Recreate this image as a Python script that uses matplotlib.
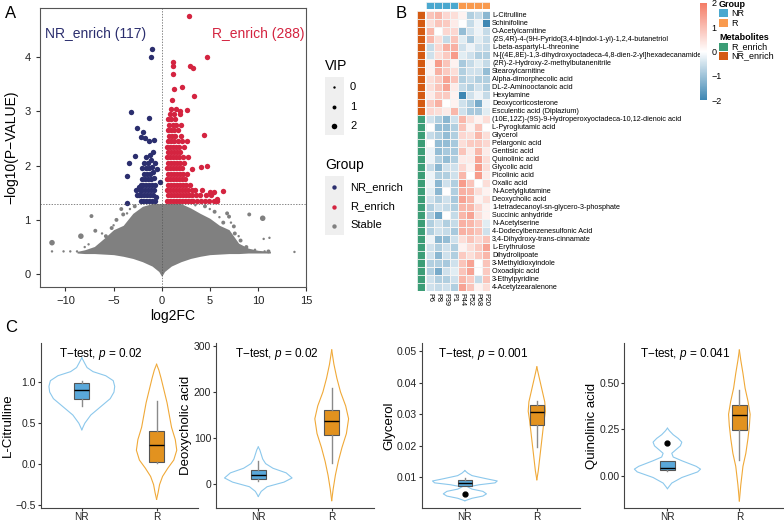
import matplotlib
matplotlib.use("Agg")
import matplotlib.pyplot as plt
from matplotlib.colors import LinearSegmentedColormap
from matplotlib.patches import Rectangle
import numpy as np

plt.rcParams['font.family'] = ['Liberation Sans', 'DejaVu Sans']
plt.rcParams['mathtext.fontset'] = 'custom'
plt.rcParams['mathtext.it'] = 'Liberation Sans:italic'
plt.rcParams['mathtext.rm'] = 'Liberation Sans'

# ---------------- panel A data ----------------
nr_points = [(-1.0, 4.15), (-1.1, 4.0), (-3.2, 2.98), (-1.3, 2.88), (-2.6, 2.69), (-1.9, 2.61),
             (-2.1, 2.52), (-1.7, 2.5), (-1.3, 2.45), (-0.8, 2.47), (-2.8, 2.17), (-3.4, 2.05),
             (-3.6, 1.8), (-3.6, 1.32), (-0.17, 1.7), (-0.5, 1.94),
             (-2.2, 1.35), (-1.9, 1.35), (-1.6, 1.35), (-1.3, 1.35), (-1.0, 1.35), (-0.7, 1.35),
             (-2.4, 1.45), (-2.1, 1.45), (-1.8, 1.45), (-1.5, 1.45), (-1.2, 1.45), (-0.9, 1.45),
             (-0.6, 1.42), (-2.3, 1.55), (-2.0, 1.55), (-1.7, 1.55), (-1.4, 1.55), (-1.1, 1.55),
             (-0.8, 1.55), (-2.2, 1.65), (-1.9, 1.65), (-1.6, 1.65), (-1.3, 1.65), (-1.0, 1.65),
             (-0.7, 1.65), (-2.0, 1.75), (-1.7, 1.75), (-1.4, 1.75), (-1.1, 1.75), (-0.8, 1.78),
             (-1.8, 1.85), (-1.5, 1.85), (-1.2, 1.85), (-0.9, 1.88), (-2.0, 1.95), (-1.6, 1.95),
             (-1.3, 1.95), (-1.0, 1.98), (-1.8, 2.05), (-1.4, 2.05), (-1.1, 2.1), (-0.7, 2.05),
             (-1.6, 2.15), (-1.2, 2.2), (-0.9, 2.25), (-2.4, 1.6), (-2.6, 1.45), (-2.7, 1.55)]

r_points = [(2.8, 4.76), (4.7, 4.0), (1.15, 3.9), (1.2, 3.84), (2.9, 3.84), (3.3, 3.8), (1.15, 3.68),
            (2.1, 3.45), (1.25, 3.41), (3.35, 3.28), (1.1, 3.2), (2.6, 3.03), (1.9, 3.0),
            (4.4, 2.56), (4.7, 1.99), (4.1, 1.97), (3.1, 1.93), (6.4, 1.53), (5.7, 1.39),
            (5.0, 1.51), (5.4, 1.52),
            (0.6, 1.35), (0.9, 1.35), (1.2, 1.35), (1.5, 1.35), (1.8, 1.35), (2.1, 1.35), (2.4, 1.35),
            (2.7, 1.35), (3.0, 1.35), (3.3, 1.35), (3.7, 1.35), (4.1, 1.35), (4.5, 1.35), (4.9, 1.35),
            (5.4, 1.35), (5.8, 1.35),
            (0.7, 1.45), (1.0, 1.45), (1.3, 1.45), (1.6, 1.45), (1.9, 1.45), (2.2, 1.45), (2.5, 1.45),
            (2.8, 1.45), (3.2, 1.45), (3.6, 1.45), (4.0, 1.45), (4.6, 1.45), (5.1, 1.45),
            (0.6, 1.55), (0.9, 1.55), (1.2, 1.55), (1.5, 1.55), (1.8, 1.55), (2.1, 1.55), (2.4, 1.55),
            (2.7, 1.55), (3.1, 1.55), (3.5, 1.55), (4.2, 1.55),
            (0.7, 1.65), (1.0, 1.65), (1.3, 1.65), (1.6, 1.65), (1.9, 1.65), (2.2, 1.65), (2.5, 1.65),
            (2.9, 1.65), (0.6, 1.75), (0.9, 1.75), (1.2, 1.75), (1.5, 1.75), (1.8, 1.75), (2.1, 1.75),
            (2.4, 1.75), (0.7, 1.85), (1.0, 1.85), (1.3, 1.85), (1.6, 1.85), (1.9, 1.85), (2.2, 1.85),
            (2.6, 1.85), (0.6, 1.95), (0.9, 1.95), (1.2, 1.95), (1.5, 1.95), (1.8, 1.95), (2.1, 1.95),
            (0.7, 2.05), (1.0, 2.05), (1.3, 2.05), (1.6, 2.05), (1.9, 2.05), (2.3, 2.05),
            (0.6, 2.15), (0.9, 2.15), (1.2, 2.15), (1.5, 2.15), (1.8, 2.15), (2.2, 2.15), (2.7, 2.15),
            (0.7, 2.25), (1.0, 2.25), (1.3, 2.25), (1.6, 2.25), (1.9, 2.25),
            (0.6, 2.35), (0.9, 2.35), (1.2, 2.35), (1.5, 2.35), (1.8, 2.35), (2.3, 2.35),
            (0.7, 2.45), (1.0, 2.45), (1.3, 2.45), (1.7, 2.45), (2.1, 2.45), (2.6, 2.45),
            (0.8, 2.55), (1.1, 2.55), (1.4, 2.55), (2.0, 2.55), (0.7, 2.65), (1.0, 2.65), (1.3, 2.65),
            (1.7, 2.65), (0.8, 2.75), (1.2, 2.75), (1.5, 2.75), (2.0, 2.75), (0.7, 2.85), (1.0, 2.85),
            (1.4, 2.85), (0.9, 2.95), (1.3, 2.95), (1.9, 2.95), (1.0, 3.05), (1.5, 3.05)]

# dense "Stable" mass: outline of the grey area
gray_x = [-8.8, -8, -7, -6, -5, -4, -3, -2, -1, -0.3, 0, 0.3, 1, 2, 3, 4, 5, 6, 7, 8, 9, 10, 11.3]
gray_hi = [0.42, 0.45, 0.51, 0.66, 0.82, 0.9, 1.12, 1.25, 1.3, 1.3, 1.3, 1.3, 1.3, 1.3, 1.22, 1.12,
           1.03, 0.9, 0.82, 0.57, 0.48, 0.44, 0.42]
gray_lo = [0.39, 0.38, 0.38, 0.37, 0.36, 0.33, 0.29, 0.23, 0.15, 0.05, -0.04, 0.05, 0.15, 0.23, 0.29,
           0.33, 0.36, 0.37, 0.38, 0.38, 0.39, 0.39, 0.39]
# scattered stable points (x, y, VIP)
gray_points = [(-11.4, 0.58, 2), (-11.4, 0.42, 0), (-10.2, 0.42, 0), (-8.4, 0.7, 2), (-7.3, 1.07, 1),
               (-6.9, 0.8, 1), (-4.2, 1.2, 1), (-4.7, 1.0, 1), (-4.0, 1.1, 1), (-5.2, 0.85, 1),
               (-6.2, 0.75, 0), (-5.8, 0.7, 1), (-3.3, 1.2, 0), (-2.8, 1.25, 1), (-5.0, 0.9, 0),
               (-3.6, 1.12, 0), (-8.0, 0.5, 0), (-7.6, 0.55, 0), (-9.5, 0.42, 0), (-8.8, 0.42, 0),
               (9.1, 1.1, 1), (10.5, 1.03, 2), (10.6, 0.65, 0), (11.2, 0.67, 0), (13.8, 0.41, 0),
               (11.1, 0.42, 1), (10.7, 0.42, 0), (9.7, 0.45, 0), (8.8, 0.5, 1), (7.6, 0.75, 1),
               (7.5, 0.88, 1), (7.0, 1.06, 1), (6.8, 1.12, 1), (6.4, 0.95, 1), (6.0, 1.05, 0),
               (5.5, 1.15, 1), (5.0, 1.2, 0), (4.5, 1.25, 1), (8.2, 0.62, 1), (8.0, 0.7, 0),
               (7.2, 0.95, 0), (3.5, 1.27, 0)]

# ---------------- panel B data ----------------
samples = ['P6', 'P8', 'P39', 'P1', 'P44', 'P52', 'P68', 'P20']
sample_group = ['NR', 'NR', 'NR', 'NR', 'R', 'R', 'R', 'R']
metabolites = ['L-Citrulline', 'Schinifoline', 'O-Acetylcarnitine',
               '(2S,4R)-4-(9H-Pyrido[3,4-b]indol-1-yl)-1,2,4-butanetriol',
               'L-beta-aspartyl-L-threonine',
               'N-[(4E,8E)-1,3-dihydroxyoctadeca-4,8-dien-2-yl]hexadecanamide',
               '(2R)-2-Hydroxy-2-methylbutanenitrile', 'Stearoylcarnitine',
               'Alpha-dimorphecolic acid', 'DL-2-Aminooctanoic acid', 'Hexylamine',
               'Deoxycorticosterone', 'Esculentic acid (Diplazium)',
               '(10E,12Z)-(9S)-9-Hydroperoxyoctadeca-10,12-dienoic acid', 'L-Pyroglutamic acid',
               'Glycerol', 'Pelargonic acid', 'Gentisic acid', 'Quinolinic acid', 'Glycolic acid',
               'Picolinic acid', 'Oxalic acid', 'N-Acetylglutamine', 'Deoxycholic acid',
               '1-tetradecanoyl-sn-glycero-3-phosphate', 'Succinic anhydride', 'N-Acetylserine',
               '4-Dodecylbenzenesulfonic Acid', '3,4-Dihydroxy-trans-cinnamate', 'L-Erythrulose',
               'Dihydrolipoate', '3-Methyldioxyindole', 'Oxoadipic acid', '3-Ethylpyridine',
               '4-Acetylzearalenone']
metab_group = ['NR_enrich'] * 13 + ['R_enrich'] * 22
hm_values = [
    [0.9, 1.1, 0.6, 0.5, 0.2, -0.8, -0.6, -1.2],
    [0.5, 0.9, 0.8, 0.3, 0.0, -0.6, -0.2, -2.0],
    [1.1, 0.0, 0.6, 0.6, -1.1, -0.5, -0.2, -0.6],
    [1.1, 0.5, -0.6, 0.9, -0.3, -0.9, -0.3, -0.6],
    [-0.6, 0.6, 1.2, 1.2, -0.5, -0.2, -0.5, -0.6],
    [-0.5, 0.5, 0.8, 1.5, -0.3, -0.5, -0.8, -0.8],
    [0.2, 1.5, 0.9, 0.2, -0.9, -0.6, -0.3, -0.6],
    [0.2, 1.2, 0.8, 0.5, -0.8, -0.5, -0.5, -1.1],
    [0.5, 0.8, 1.4, 0.9, -0.8, -0.6, -0.8, -0.8],
    [0.5, 0.9, 1.4, 0.3, -0.6, -0.8, -0.5, -0.8],
    [0.3, 0.8, 0.8, 0.2, -2.0, -0.5, -0.2, -0.6],
    [0.8, 1.2, 0.0, 0.2, -0.5, -0.8, -1.4, -0.2],
    [0.6, 0.5, 0.3, 1.1, -0.5, -0.9, -0.9, -0.3],
    [-0.5, -0.8, -1.2, -0.5, 1.1, 0.5, 0.2, 0.5],
    [0.0, -1.1, -1.1, -0.8, 0.9, 0.2, 0.9, 0.0],
    [-0.6, -0.8, -1.1, -0.8, 0.6, 0.5, 1.1, 0.5],
    [0.0, -1.1, -1.1, -0.9, 0.5, 0.8, 0.8, 0.6],
    [-0.2, -1.1, -0.9, -0.9, 0.9, 0.3, 1.1, 0.3],
    [-0.2, -0.8, -1.1, -0.8, 0.3, 0.3, 1.4, 0.5],
    [-0.6, -1.2, -0.5, -0.5, 0.6, 0.2, 1.5, 0.5],
    [-0.2, -0.8, -0.8, -0.5, 1.1, 0.0, 1.5, 0.3],
    [-0.2, -1.2, -0.5, -0.8, 1.5, 0.9, 0.0, 0.5],
    [-0.3, -1.2, 0.0, -0.8, 1.2, 1.1, 0.5, 0.2],
    [-0.5, -0.8, -0.5, -0.9, 1.4, 1.1, 0.2, 0.5],
    [-0.8, -0.5, -0.6, -0.8, 1.1, 1.1, 0.6, 0.2],
    [-0.8, -1.5, 0.0, -0.6, 1.1, 1.4, 0.5, 0.2],
    [-0.8, -0.5, -0.8, -0.6, 1.2, 1.1, 0.8, -0.3],
    [-0.8, -0.5, -0.6, -0.9, 1.2, 1.1, 0.9, -0.5],
    [-0.2, -1.2, -1.1, -0.5, 0.5, 0.9, 0.6, 0.9],
    [-0.5, -0.8, -0.5, -0.8, 0.2, 0.5, 0.8, 1.4],
    [-0.5, -1.2, -0.5, -0.8, 0.8, 0.5, 0.8, 1.1],
    [-0.8, -0.8, -0.9, -0.5, 0.9, 1.4, 0.0, 0.9],
    [-0.8, -1.4, -0.5, -0.3, 0.9, 1.4, 0.0, 0.8],
    [-0.5, -0.8, -0.8, -0.5, 1.1, 0.8, -0.6, 0.9],
    [-0.5, -0.6, -0.5, -0.8, 1.4, 0.9, 0.2, 0.5],
]

# ---------------- panel C data (violin outlines + box stats) ----------------
c_names = ['L-Citrulline', 'Deoxycholic acid', 'Glycerol', 'Quinolinic acid']
c_pvals = ['0.02', '0.02', '0.001', '0.041']
# violin outlines: (y, half width) for NR and R
vio_nr_y = [[0.42, 0.5, 0.6, 0.7, 0.8, 0.88, 0.95, 1.02, 1.08, 1.13, 1.18, 1.23, 1.30],
            [-26, -15, -5, 5, 14, 25, 35, 45, 55, 65, 75, 81],
            [0.0025, 0.0033, 0.004, 0.0047, 0.0055, 0.0062, 0.0069, 0.0076, 0.0082, 0.0088, 0.0095,
             0.0105, 0.0113, 0.0121],
            [-0.07, -0.04, -0.01, 0.02, 0.035, 0.05, 0.08, 0.1, 0.12, 0.14, 0.16, 0.18, 0.2, 0.22,
             0.24, 0.255]]
vio_nr_w = [[0, 0.04, 0.12, 0.25, 0.38, 0.43, 0.44, 0.42, 0.32, 0.15, 0.07, 0.04, 0],
            [0, 0.04, 0.12, 0.35, 0.46, 0.38, 0.2, 0.1, 0.06, 0.04, 0.02, 0],
            [0, 0.1, 0.25, 0.3, 0.25, 0.1, 0.04, 0.2, 0.42, 0.45, 0.3, 0.1, 0.04, 0],
            [0, 0.06, 0.2, 0.42, 0.46, 0.4, 0.2, 0.08, 0.06, 0.12, 0.18, 0.2, 0.15, 0.08, 0.03, 0]]
vio_r_y = [[-0.43, -0.35, -0.25, -0.15, -0.05, 0.05, 0.17, 0.3, 0.45, 0.6, 0.75, 0.9, 1.05, 1.15, 1.22],
           [-35, -10, 20, 50, 80, 110, 142, 170, 200, 230, 260, 291],
           [0.0092, 0.012, 0.016, 0.02, 0.024, 0.028, 0.031, 0.034, 0.037, 0.040, 0.043, 0.0451],
           [-0.136, -0.05, 0.05, 0.12, 0.2, 0.27, 0.33, 0.4, 0.47, 0.55, 0.62, 0.675]]
vio_r_w = [[0, 0.02, 0.04, 0.08, 0.15, 0.23, 0.27, 0.25, 0.2, 0.17, 0.14, 0.1, 0.06, 0.03, 0],
           [0, 0.02, 0.05, 0.09, 0.14, 0.2, 0.23, 0.19, 0.12, 0.07, 0.03, 0],
           [0, 0.02, 0.04, 0.06, 0.08, 0.1, 0.12, 0.11, 0.08, 0.05, 0.02, 0],
           [0, 0.02, 0.05, 0.09, 0.12, 0.14, 0.15, 0.12, 0.08, 0.05, 0.02, 0]]
# box stats: whislo, q1, med, q3, whishi, outliers
box_nr = [(0.71, 0.79, 0.90, 0.99, 1.01, []),
          (8, 11, 21, 32, 50, []),
          (0.0073, 0.0073, 0.0083, 0.0090, 0.0096, [0.0047]),
          (0.023, 0.028, 0.042, 0.079, 0.079, [0.178])]
box_r = [(0.01, 0.02, 0.23, 0.41, 0.77, []),
         (47, 108, 138, 162, 209, []),
         (0.0195, 0.0265, 0.0308, 0.0330, 0.0343, []),
         (0.085, 0.243, 0.326, 0.38, 0.46, [])]
c_ylims = [(-0.536, 1.48), (-51, 306), (0.0002, 0.0527), (-0.174, 0.713)]
c_yticks = [[-0.5, 0.0, 0.5, 1.0], [0, 100, 200, 300], [0.01, 0.02, 0.03, 0.04, 0.05],
            [0.0, 0.25, 0.5]]
c_yticklabels = [['−0.5', '0.0', '0.5', '1.0'], ['0', '100', '200', '300'],
                 ['0.01', '0.02', '0.03', '0.04', '0.05'], ['0.00', '0.25', '0.50']]

NR_COL = '#2B2E6E'
R_COL = '#D42440'
GRAY = '#808080'
vip_size = {0: 3, 1: 8, 2: 16}

W, H = 784, 523
fig = plt.figure(figsize=(W / 100, H / 100), dpi=100)


def frac(x0, y0, x1, y1):
    # pixel box -> figure fraction
    return [x0 / W, 1 - y1 / H, (x1 - x0) / W, (y1 - y0) / H]


# ---------------- A: volcano ----------------
ax = fig.add_axes(frac(39.5, 7.5, 306, 286.7))
ax.fill_between(gray_x, gray_lo, gray_hi, color=GRAY, lw=0, zorder=1)
gp = np.array(gray_points)
ax.scatter(gp[:, 0], gp[:, 1], s=[vip_size[int(v)] for v in gp[:, 2]], c=GRAY, lw=0, zorder=2)
nrp = np.array(nr_points)
rp = np.array(r_points)
ax.scatter(nrp[:, 0], nrp[:, 1], s=15, c=NR_COL, lw=0, zorder=3)
ax.scatter(rp[:, 0], rp[:, 1], s=15, c=R_COL, lw=0, zorder=3)
ax.axhline(1.3, color='#555555', lw=0.5, ls=(0, (2, 2)), zorder=4)
ax.axvline(0, color='#555555', lw=0.5, ls=(0, (2, 2)), zorder=4)
ax.text(-6.9, 4.42, 'NR_enrich (117)', color=NR_COL, fontsize=10, ha='center', va='center')
ax.text(10.0, 4.42, 'R_enrich (288)', color=R_COL, fontsize=10, ha='center', va='center')
ax.set_xlim(-12.7, 15.0)
ax.set_ylim(-0.23, 4.91)
ax.set_xticks([-10, -5, 0, 5, 10, 15])
ax.set_yticks([0, 1, 2, 3, 4])
ax.tick_params(labelsize=8, length=3, color='#333333', labelcolor='#222222')
for s in ax.spines.values():
    s.set_color('#555555')
    s.set_linewidth(0.8)
ax.set_xlabel('log2FC', fontsize=10, labelpad=2)
ax.set_ylabel('−log10(P−VALUE)', fontsize=10, labelpad=4)

# ---------------- B: heatmap ----------------
cmap = LinearSegmentedColormap.from_list('hm', ['#3E87B3', '#FFFFFF', '#F47C66'])
nrow = len(metabolites)
hx = fig.add_axes(frac(426, 10.7, 490, 290.7))
mesh = hx.pcolormesh(np.array(hm_values), cmap=cmap, vmin=-2, vmax=2,
                     edgecolors='#F4F4F4', linewidth=0.5)
hx.set_xlim(0, len(samples))
hx.set_ylim(nrow, 0)
hx.yaxis.tick_right()
hx.set_yticks(np.arange(nrow) + 0.5)
hx.set_yticklabels(metabolites, fontsize=5.2)
hx.set_xticks(np.arange(len(samples)) + 0.5)
hx.set_xticklabels(samples, fontsize=5.2, rotation=270)
hx.tick_params(length=0, pad=1.5)
for s in hx.spines.values():
    s.set_visible(False)

grp_colors = {'NR': '#4AA8CF', 'R': '#F99A4E'}
met_colors = {'R_enrich': '#3C9D76', 'NR_enrich': '#D45A12'}
cx = fig.add_axes(frac(426, 2, 490, 8.6))
for i, g in enumerate(sample_group):
    cx.add_patch(Rectangle((i, 0), 1, 1, facecolor=grp_colors[g], edgecolor='#F4F4F4', lw=0.5))
cx.set_xlim(0, len(samples))
cx.set_ylim(0, 1)
cx.axis('off')

rx = fig.add_axes(frac(417.3, 10.7, 424.7, 290.7))
for i, g in enumerate(metab_group):
    rx.add_patch(Rectangle((0, i), 1, 1, facecolor=met_colors[g], edgecolor='#F4F4F4', lw=0.5))
rx.set_xlim(0, 1)
rx.set_ylim(nrow, 0)
rx.axis('off')

cbx = fig.add_axes(frac(700, 3, 706.7, 100))
cb = fig.colorbar(mesh, cax=cbx, ticks=[-2, -1, 0, 1, 2])
cb.outline.set_visible(False)
cb.ax.tick_params(labelsize=6.5, length=2, width=0.5, color='white', pad=1.5)
cb.ax.set_yticklabels(['−2', '−1', '0', '1', '2'])

# ---------------- C: violins ----------------
c_boxes = [(40.7, 197.7), (216, 374), (421.7, 580), (624.3, 782.5)]
c_xlims = [(0.45, 2.55), (0.424, 2.576), (0.4, 2.6), (0.4, 2.6)]
for k in range(4):
    vx = fig.add_axes(frac(c_boxes[k][0], 343, c_boxes[k][1], 508))
    for pos, vy, vw, col in [(1, vio_nr_y[k], vio_nr_w[k], '#8CC8EC'),
                             (2, vio_r_y[k], vio_r_w[k], '#F0A938')]:
        vy = np.array(vy)
        vw = np.array(vw)
        vx.plot(pos - vw, vy, color=col, lw=0.8)
        vx.plot(pos + vw, vy, color=col, lw=0.8)
    for pos, st, fc in [(1, box_nr[k], '#5AA8DA'), (2, box_r[k], '#E2921F')]:
        stats = dict(whislo=st[0], q1=st[1], med=st[2], q3=st[3], whishi=st[4], fliers=st[5])
        vx.bxp([stats], positions=[pos], widths=0.2, patch_artist=True, showcaps=False,
               boxprops=dict(facecolor=fc, edgecolor='#555555', lw=0.8),
               whiskerprops=dict(color='#8A8A8A', lw=1.0),
               medianprops=dict(color='black', lw=1.0),
               flierprops=dict(marker='o', markerfacecolor='black', markeredgecolor='black',
                               markersize=3.5))
    vx.set_xlim(*c_xlims[k])
    vx.set_ylim(*c_ylims[k])
    vx.set_xticks([1, 2])
    vx.set_xticklabels(['NR', 'R'])
    vx.set_yticks(c_yticks[k])
    vx.set_yticklabels(c_yticklabels[k])
    vx.tick_params(labelsize=7.5, length=2, pad=1.5, color='#333333', labelcolor='#222222')
    vx.tick_params(axis='x', labelsize=7.2, pad=1)
    vx.spines['top'].set_visible(False)
    vx.spines['right'].set_visible(False)
    vx.spines['left'].set_color('#444444')
    vx.spines['bottom'].set_color('#444444')
    vx.set_ylabel(c_names[k], fontsize=9.5, labelpad=1)
    vx.text(1.25, c_ylims[k][1] - (c_ylims[k][1] - c_ylims[k][0]) * 0.065,
            'T−test, $p$ = ' + c_pvals[k], fontsize=8.5, ha='center', va='center')

# ---------------- overlay: legends and panel letters ----------------
lg = fig.add_axes([0, 0, 1, 1])
lg.set_xlim(0, W)
lg.set_ylim(H, 0)
lg.axis('off')
lg.patch.set_visible(False)

lg.text(5, 13, 'A', fontsize=12, va='center')
lg.text(396, 13, 'B', fontsize=12, va='center')
lg.text(5, 327, 'C', fontsize=12, va='center')

# VIP legend
lg.text(325, 66, 'VIP', fontsize=10, va='center')
lg.add_patch(Rectangle((325, 77), 19, 58, facecolor='#EFEFEF', lw=0))
for yy, v in [(87, 0), (106.5, 1), (126, 2)]:
    lg.scatter([334.5], [yy], s=[vip_size[v]], c='black', lw=0)
    lg.text(350, yy, str(v), fontsize=8, va='center')
# Group legend
lg.text(325, 165.5, 'Group', fontsize=10, va='center')
lg.add_patch(Rectangle((325, 176), 19, 59, facecolor='#EFEFEF', lw=0))
for yy, col, lab in [(187, NR_COL, 'NR_enrich'), (206.5, R_COL, 'R_enrich'), (225.5, GRAY, 'Stable')]:
    lg.scatter([334.5], [yy], s=10, c=col, lw=0)
    lg.text(350, yy, lab, fontsize=8, va='center')

# heatmap annotation legends
lg.text(719, 4.5, 'Group', fontsize=6.5, fontweight='bold', va='center')
for yy, g in [(9, 'NR'), (19, 'R')]:
    lg.add_patch(Rectangle((719, yy), 9, 8, facecolor=grp_colors[g], lw=0))
    lg.text(731, yy + 4, g, fontsize=6.5, va='center')
lg.text(719, 37.5, 'Metabolites', fontsize=6.5, fontweight='bold', va='center')
for yy, g in [(42.5, 'R_enrich'), (52, 'NR_enrich')]:
    lg.add_patch(Rectangle((719, yy), 9, 8, facecolor=met_colors[g], lw=0))
    lg.text(731, yy + 4, g, fontsize=6.5, va='center')

fig.savefig('out.png', dpi=100)
